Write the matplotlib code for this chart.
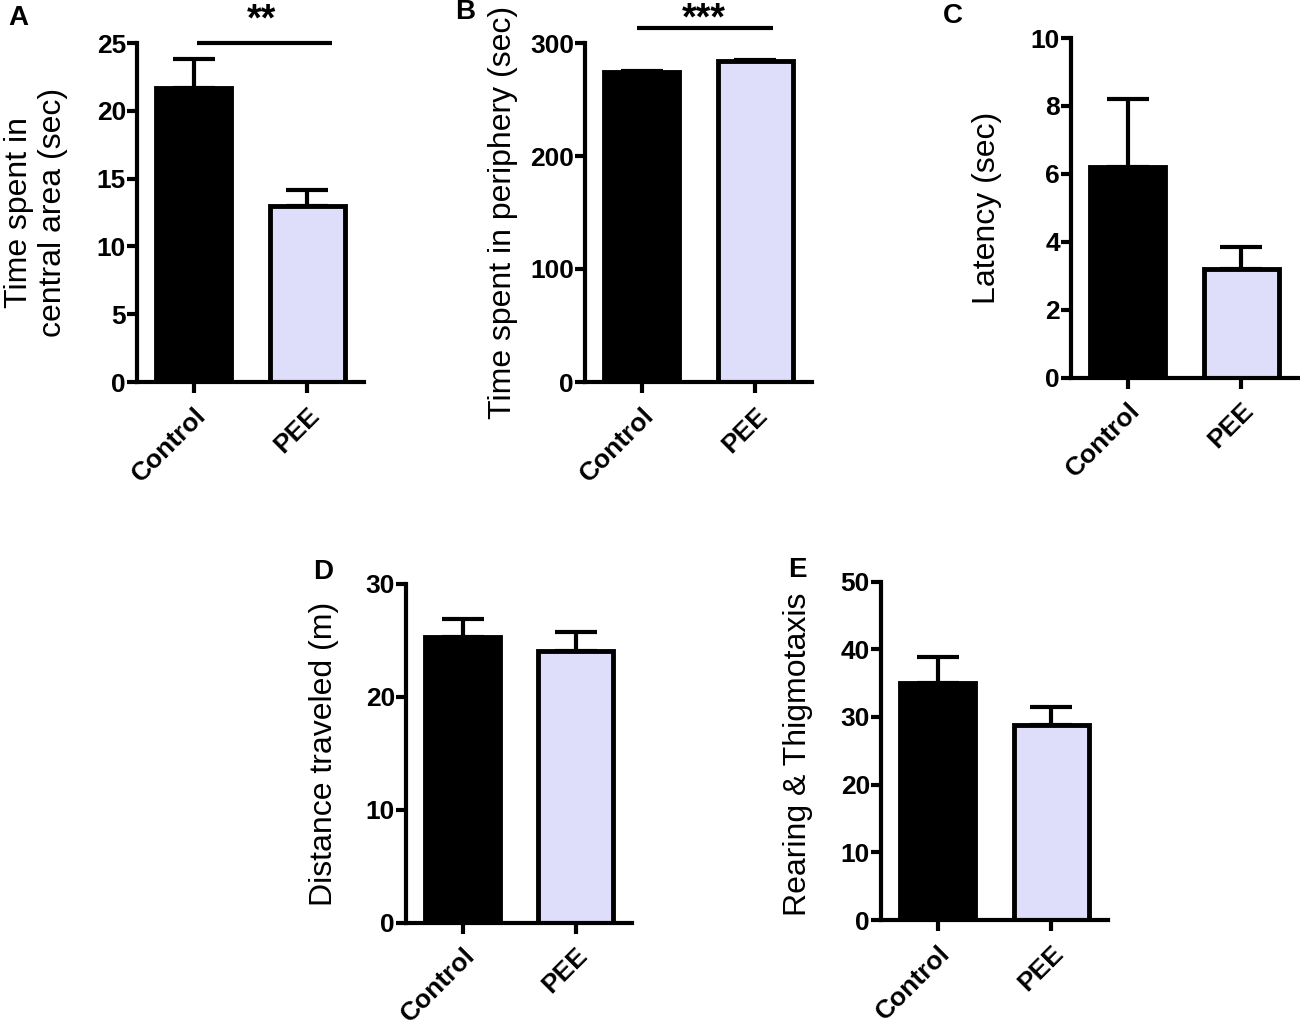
import matplotlib
matplotlib.use("Agg")
from matplotlib import pyplot as plt
from matplotlib.transforms import blended_transform_factory

plt.rcParams["font.family"] = ["Liberation Sans", "DejaVu Sans"]

W, H = 1300, 1028

groups = ["Control", "PEE"]
bar_colors = ["black", "#DEDEFA"]

# panel data: mean and SEM
central_mean = [21.7, 13.0]
central_sem = [2.1, 1.15]
periphery_mean = [274, 284]
periphery_sem = [1.2, 1.0]
latency_mean = [6.2, 3.2]
latency_sem = [2.0, 0.65]
distance_mean = [25.3, 24.0]
distance_sem = [1.6, 1.7]
rearing_mean = [35.0, 28.8]
rearing_sem = [3.8, 2.6]

central_ticks = [0, 5, 10, 15, 20, 25]
periphery_ticks = [0, 100, 200, 300]
latency_ticks = [0, 2, 4, 6, 8, 10]
distance_ticks = [0, 10, 20, 30]
rearing_ticks = [0, 10, 20, 30, 40, 50]

fig = plt.figure(figsize=(W / 100, H / 100), dpi=100)


def px_axes(left, right, top, bottom):
    return fig.add_axes([left / W, 1 - bottom / H, (right - left) / W, (bottom - top) / H])


def bar_panel(ax, means, sems, yticks, ylabel, label_xy, letter, letter_xy):
    x = list(range(len(groups)))
    ax.errorbar(x, means, yerr=[[0] * len(sems), sems], fmt="none",
                ecolor="black", elinewidth=3, capsize=15, capthick=3, zorder=1)
    ax.bar(x, means, width=0.66, color=bar_colors, edgecolor="black",
           linewidth=3.5, zorder=2)
    ax.set_xlim(-0.5, 1.5)
    ax.set_ylim(yticks[0], yticks[-1])
    ax.set_yticks(yticks)
    ax.set_xticks(x)
    ax.set_xticklabels(groups, rotation=45, ha="right", va="top",
                       rotation_mode="anchor", fontweight="bold", fontsize=19)
    for lab in ax.get_yticklabels():
        lab.set_fontweight("bold")
        lab.set_fontsize(19)
    for side in ["top", "right"]:
        ax.spines[side].set_visible(False)
    for side in ["left", "bottom"]:
        ax.spines[side].set_linewidth(3)
    ax.tick_params(axis="y", width=3, length=7, pad=1)
    ax.tick_params(axis="x", width=3, length=8, pad=7)
    ax.set_ylabel(ylabel, fontsize=23, va="center", ha="center", linespacing=1.15)
    bb = ax.get_position()
    lx = (label_xy[0] / W - bb.x0) / bb.width
    ly = ((1 - label_xy[1] / H) - bb.y0) / bb.height
    ax.yaxis.set_label_coords(lx, ly)
    fig.text(letter_xy[0] / W, 1 - letter_xy[1] / H, letter, fontsize=20,
             fontweight="bold", ha="center", va="center")


axA = px_axes(137, 364, 43, 382)
bar_panel(axA, central_mean, central_sem, central_ticks,
          "Time spent in\ncentral area (sec)", (36, 212), "A", (18, 18))
axA.plot([0.03, 1.22], [25, 25], color="black", lw=3, clip_on=False, solid_capstyle="butt")
axA.text(0.6, 25.3, "**", ha="center", va="bottom", fontsize=27, fontweight="bold")

axB = px_axes(585, 812, 43, 382)
bar_panel(axB, periphery_mean, periphery_sem, periphery_ticks,
          "Time spent in periphery (sec)", (503, 212), "B", (465, 12))
axB.plot([-0.04, 1.16], [313, 313], color="black", lw=3, clip_on=False, solid_capstyle="butt")
star_tf = blended_transform_factory(axB.transData, fig.transFigure)
axB.text(0.55, 1 - 1 / H, "***", transform=star_tf,
         ha="center", va="top", fontsize=27, fontweight="bold")

axC = px_axes(1071, 1298, 38, 377.5)
bar_panel(axC, latency_mean, latency_sem, latency_ticks,
          "Latency (sec)", (987, 208), "C", (953, 16))

axD = px_axes(406, 632, 583.5, 922.5)
bar_panel(axD, distance_mean, distance_sem, distance_ticks,
          "Distance traveled (m)", (324, 754), "D", (323, 572))

axE = px_axes(881, 1108, 581.5, 920)
bar_panel(axE, rearing_mean, rearing_sem, rearing_ticks,
          "Rearing & Thigmotaxis", (798, 754), "E", (797, 570))

fig.savefig("out.png", dpi=100)
